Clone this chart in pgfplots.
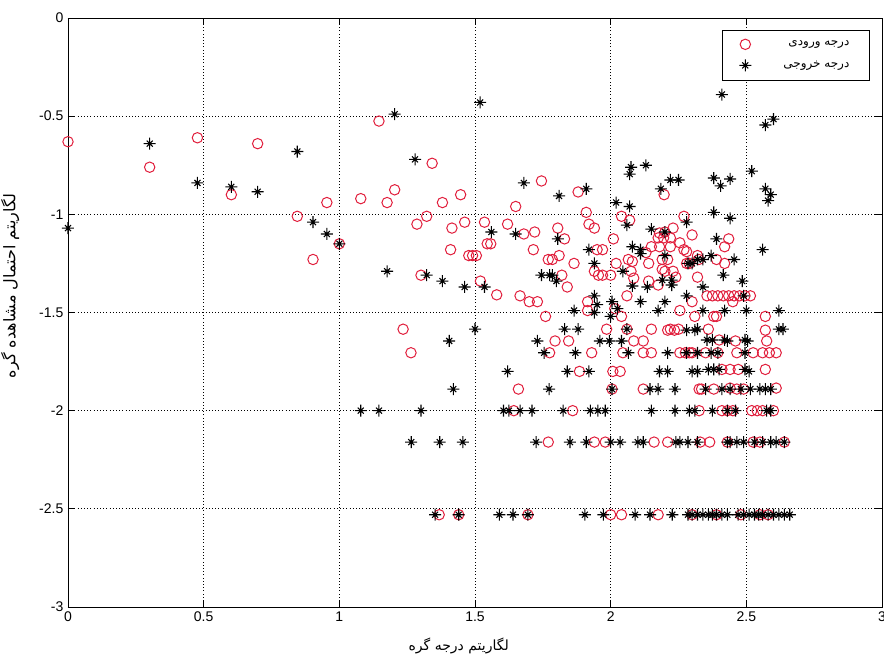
\documentclass[border=0pt]{standalone}
\usepackage{fontspec}
\setmainfont{Liberation Sans}
\newfontfamily\arabicfont[Script=Arabic]{DejaVu Sans}
\TeXXeTstate=1
\usepackage{pgfplots}
\pgfplotsset{compat=1.18}
\definecolor{mred}{RGB}{225,30,60}
\pgfdeclareplotmark{mstar}{%
  \pgfpathmoveto{\pgfqpoint{-\pgfplotmarksize}{0pt}}%
  \pgfpathlineto{\pgfqpoint{\pgfplotmarksize}{0pt}}%
  \pgfpathmoveto{\pgfqpoint{0pt}{-\pgfplotmarksize}}%
  \pgfpathlineto{\pgfqpoint{0pt}{\pgfplotmarksize}}%
  \pgfpathmoveto{\pgfqpoint{-0.5\pgfplotmarksize}{-0.5\pgfplotmarksize}}%
  \pgfpathlineto{\pgfqpoint{0.5\pgfplotmarksize}{0.5\pgfplotmarksize}}%
  \pgfpathmoveto{\pgfqpoint{-0.5\pgfplotmarksize}{0.5\pgfplotmarksize}}%
  \pgfpathlineto{\pgfqpoint{0.5\pgfplotmarksize}{-0.5\pgfplotmarksize}}%
  \pgfusepathqstroke}
\pgfplotstableread{
x y
0 -0.63
0.301 -0.76
0.477 -0.61
0.602 -0.90
0.699 -0.64
0.845 -1.01
0.903 -1.23
0.954 -0.94
1.0 -1.15
1.079 -0.92
1.146 -0.525
1.176 -0.94
1.204 -0.875
1.235 -1.585
1.264 -1.705
1.286 -1.05
1.301 -1.31
1.322 -1.01
1.342 -0.74
1.368 -2.53
1.38 -0.94
1.41 -1.18
1.415 -1.07
1.44 -2.53
1.447 -0.90
1.462 -1.04
1.477 -1.21
1.491 -1.21
1.505 -1.21
1.52 -1.34
1.535 -1.04
1.545 -1.15
1.558 -1.15
1.58 -1.41
1.62 -1.05
1.643 -2.0
1.65 -0.96
1.66 -1.89
1.666 -1.415
1.68 -1.10
1.695 -2.53
1.70 -1.445
1.72 -1.09
1.715 -1.18
1.73 -1.445
1.745 -0.83
1.76 -1.52
1.77 -1.23
1.77 -2.16
1.775 -1.705
1.785 -1.23
1.795 -1.645
1.805 -1.07
1.81 -1.21
1.82 -1.31
1.83 -1.125
1.84 -1.37
1.845 -1.645
1.86 -2.0
1.865 -1.25
1.88 -0.886
1.885 -1.80
1.91 -0.99
1.915 -1.445
1.915 -1.49
1.92 -1.05
1.93 -1.705
1.94 -1.07
1.94 -1.29
1.94 -2.16
1.95 -1.18
1.955 -1.31
1.97 -1.18
1.97 -1.31
1.98 -2.16
1.985 -1.585
2.0 -1.31
2.0 -2.53
2.005 -1.89
2.008 -1.80
2.01 -1.125
2.015 -1.48
2.02 -1.25
2.035 -1.80
2.04 -1.01
2.04 -1.52
2.04 -2.53
2.045 -1.705
2.06 -1.415
2.06 -1.585
2.065 -1.23
2.07 -1.03
2.075 -1.29
2.08 -1.24
2.085 -1.325
2.085 -1.645
2.12 -1.645
2.12 -1.705
2.12 -1.89
2.13 -1.195
2.14 -1.25
2.14 -1.34
2.15 -1.165
2.15 -1.585
2.15 -1.705
2.16 -2.16
2.175 -1.12
2.175 -1.36
2.175 -2.53
2.18 -1.095
2.18 -1.165
2.19 -1.23
2.19 -1.28
2.195 -1.12
2.197 -0.90
2.20 -1.09
2.20 -1.29
2.21 -1.23
2.21 -1.59
2.21 -2.16
2.22 -1.12
2.22 -1.165
2.22 -1.585
2.23 -1.07
2.23 -1.29
2.235 -1.59
2.24 -1.32
2.25 -1.585
2.255 -1.145
2.255 -1.49
2.255 -1.705
2.27 -1.01
2.27 -1.18
2.275 -1.705
2.28 -1.19
2.28 -1.25
2.29 -1.25
2.29 -1.705
2.30 -1.105
2.30 -1.445
2.30 -1.705
2.30 -2.53
2.31 -1.52
2.32 -1.21
2.32 -1.32
2.325 -1.23
2.326 -1.89
2.326 -2.0
2.33 -2.16
2.335 -1.89
2.35 -1.705
2.355 -1.415
2.36 -1.585
2.365 -2.16
2.375 -1.415
2.38 -1.52
2.38 -1.89
2.39 -1.23
2.39 -1.52
2.39 -2.53
2.395 -1.705
2.395 -1.415
2.40 -1.64
2.41 -1.79
2.41 -2.0
2.415 -1.415
2.42 -1.165
2.42 -1.25
2.43 -2.0
2.43 -2.16
2.435 -1.125
2.435 -1.415
2.44 -1.79
2.44 -1.885
2.45 -1.445
2.45 -2.0
2.455 -1.415
2.46 -1.645
2.465 -1.705
2.465 -1.89
2.47 -1.79
2.475 -1.415
2.48 -2.53
2.49 -1.89
2.495 -1.415
2.515 -1.415
2.52 -2.0
2.525 -1.705
2.525 -2.16
2.54 -2.0
2.55 -2.16
2.55 -2.53
2.56 -1.705
2.56 -2.0
2.57 -1.52
2.57 -1.59
2.57 -1.79
2.575 -1.645
2.585 -1.705
2.58 -2.53
2.60 -2.0
2.61 -1.705
2.61 -1.885
2.64 -2.16
}\indeg
\pgfplotstableread{
x y
0 -1.07
0.301 -0.64
0.477 -0.84
0.602 -0.86
0.699 -0.885
0.845 -0.68
0.903 -1.04
0.954 -1.10
1.0 -1.15
1.079 -2.0
1.146 -2.0
1.176 -1.29
1.204 -0.49
1.265 -2.16
1.279 -0.72
1.301 -2.0
1.322 -1.31
1.353 -2.53
1.37 -2.16
1.38 -1.34
1.405 -1.645
1.42 -1.89
1.44 -2.53
1.455 -2.16
1.462 -1.37
1.50 -1.585
1.519 -0.43
1.535 -1.37
1.56 -1.09
1.59 -2.53
1.605 -2.0
1.62 -1.80
1.625 -2.0
1.64 -2.53
1.65 -1.10
1.666 -2.0
1.68 -0.84
1.695 -2.53
1.71 -2.0
1.725 -2.16
1.73 -1.645
1.745 -1.31
1.755 -1.705
1.773 -1.89
1.775 -1.31
1.785 -1.31
1.80 -1.34
1.805 -1.125
1.81 -0.906
1.825 -2.0
1.83 -1.585
1.84 -1.80
1.85 -2.16
1.865 -1.49
1.87 -1.705
1.88 -1.585
1.905 -2.53
1.91 -0.87
1.91 -2.16
1.92 -1.18
1.92 -1.80
1.925 -2.0
1.94 -1.25
1.94 -1.415
1.94 -1.50
1.95 -1.46
1.953 -2.0
1.96 -1.645
1.973 -2.53
1.98 -2.0
1.995 -1.645
2.0 -1.52
2.0 -2.16
2.005 -1.445
2.005 -1.89
2.02 -0.94
2.025 -1.48
2.035 -2.16
2.04 -1.645
2.045 -1.29
2.06 -1.055
2.065 -1.705
2.06 -1.585
2.07 -0.795
2.07 -0.96
2.075 -0.76
2.08 -1.165
2.08 -1.365
2.09 -2.53
2.10 -2.16
2.11 -1.18
2.11 -1.2
2.11 -1.445
2.12 -2.16
2.13 -0.75
2.135 -1.37
2.145 -1.89
2.145 -2.53
2.15 -1.075
2.15 -2.0
2.175 -1.49
2.175 -1.89
2.18 -1.80
2.185 -0.87
2.19 -1.335
2.20 -1.09
2.20 -1.21
2.20 -1.445
2.21 -1.705
2.21 -1.80
2.22 -0.825
2.225 -1.335
2.225 -1.36
2.237 -1.89
2.237 -2.0
2.227 -2.53
2.24 -2.16
2.25 -0.825
2.255 -2.16
2.28 -1.04
2.28 -1.415
2.28 -1.59
2.28 -1.705
2.285 -1.25
2.285 -2.16
2.285 -2.53
2.29 -2.0
2.30 -1.25
2.30 -1.80
2.30 -2.53
2.31 -1.59
2.31 -2.0
2.32 -1.23
2.32 -1.585
2.32 -1.705
2.32 -1.80
2.32 -2.16
2.32 -2.53
2.34 -1.23
2.34 -1.37
2.34 -1.49
2.34 -2.53
2.35 -1.89
2.355 -1.64
2.36 -1.79
2.36 -2.53
2.37 -1.21
2.37 -1.705
2.375 -1.64
2.375 -2.0
2.38 -0.815
2.38 -0.99
2.38 -1.79
2.375 -2.53
2.39 -1.125
2.39 -2.53
2.395 -1.705
2.40 -1.79
2.405 -0.855
2.41 -0.39
2.41 -1.89
2.41 -2.53
2.415 -1.31
2.42 -1.49
2.42 -1.64
2.43 -1.645
2.43 -2.0
2.43 -2.16
2.43 -2.53
2.44 -0.82
2.44 -1.02
2.44 -1.89
2.44 -2.16
2.455 -1.23
2.46 -2.0
2.465 -2.16
2.47 -2.53
2.48 -1.89
2.485 -1.34
2.49 -1.415
2.49 -2.16
2.49 -2.53
2.495 -1.64
2.495 -1.79
2.495 -1.705
2.50 -1.49
2.505 -1.645
2.51 -1.80
2.51 -2.53
2.515 -1.89
2.52 -0.78
2.53 -2.16
2.53 -2.53
2.545 -2.53
2.55 -1.89
2.56 -1.18
2.56 -2.16
2.56 -2.53
2.57 -0.545
2.57 -0.87
2.57 -1.89
2.575 -2.0
2.58 -0.93
2.58 -2.53
2.59 -0.90
2.59 -1.89
2.59 -2.0
2.59 -2.16
2.60 -0.515
2.60 -2.53
2.61 -2.16
2.62 -1.49
2.62 -1.585
2.62 -2.53
2.635 -1.585
2.64 -2.16
2.64 -2.53
2.66 -2.53
}\outdeg
\begin{document}
\begin{tikzpicture}
\begin{axis}[
  at={(0,0)}, anchor=south west,
  scale only axis, width=610.5pt, height=441.75pt,
  xmin=0, xmax=3, ymin=-3, ymax=0,
  xtick={0,0.5,1,1.5,2,2.5,3},
  ytick={-3,-2.5,-2,-1.5,-1,-0.5,0},
  xticklabels={0,0.5,1,1.5,2,2.5,3},
  yticklabels={-3,-2.5,-2,-1.5,-1,-0.5,0},
  grid=major,
  major grid style={black, dotted, line width=0.6pt},
  axis line style={black, line width=0.6pt},
  tick style={black, line width=0.6pt},
  major tick length=5pt,
  tick label style={font=\fontsize{10.5}{12}\selectfont},
  every axis x label/.style={at={(axis description cs:0.48,-0.066)}, anchor=center},
  every axis y label/.style={at={(axis description cs:-0.071,0.545)}, anchor=center, rotate=90},
  xlabel={\arabicfont\fontsize{10.5}{12}\selectfont\beginR لگاریتم درجه گره\endR},
  ylabel={\arabicfont\fontsize{12}{14}\selectfont\beginR لگاریتم احتمال مشاهده گره\endR},
  legend style={at={(0.985,0.98)}, anchor=north east, draw=black, line width=0.6pt,
    font=\arabicfont\fontsize{9}{11}\selectfont, inner xsep=13pt, inner ysep=6pt,
    row sep=6pt, /tikz/every odd column/.style={column sep=22pt}},
  legend cell align=right,
]
\addplot[only marks, mark=o, mark size=3.9pt, mred, line width=0.75pt] table {\indeg};
\addlegendentry{\beginR درجه ورودی\endR}
\addplot[only marks, mark=mstar, mark size=4.5pt, black, line width=0.8pt] table {\outdeg};
\addlegendentry{\beginR درجه خروجی\endR}
\end{axis}
\pgfresetboundingbox
\path[use as bounding box] (-51pt,-35.25pt) rectangle (612pt,455.25pt);
\end{tikzpicture}
\end{document}
